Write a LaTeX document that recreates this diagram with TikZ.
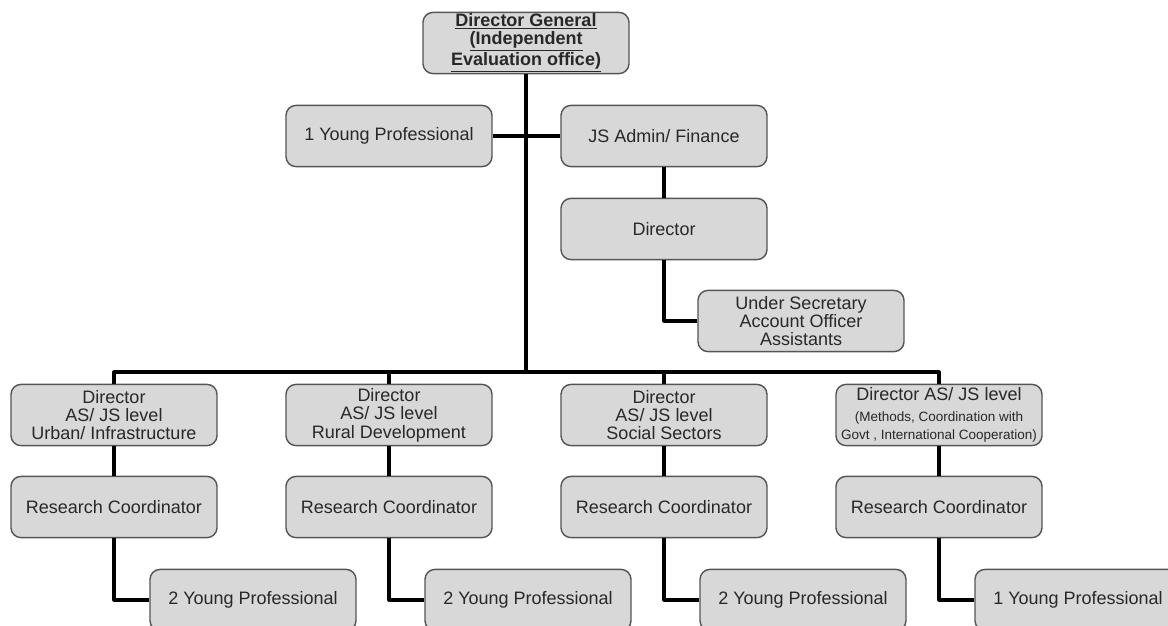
\documentclass[tikz,border=0pt]{standalone}
\usepackage{fontspec}
\setmainfont{Liberation Sans}
\definecolor{boxfill}{RGB}{216,216,216}
\definecolor{boxline}{RGB}{85,85,85}
\definecolor{ink}{RGB}{40,40,40}
\begin{document}
\begin{tikzpicture}[x=0.025cm, y=-0.025cm, line join=round,
	orgbox/.style={draw=boxline, line width=1pt, fill=boxfill, rounded corners=0.25cm, minimum width=5.15cm, minimum height=1.53cm, inner sep=0pt, align=center, text=ink, font=\fontsize{12.8}{13.1}\selectfont},
	link/.style={line width=2.2pt, black},
	every node/.style={font=\fontsize{12.8}{13.1}\selectfont}]
	
	\path[use as bounding box, clip] (0,0) rectangle (1168,625);
	
	% top of the chart
	\node[orgbox, font=\bfseries\fontsize{12.8}{13}\selectfont] (dg) at (526,43) {\underline{Director General}\\ \underline{(Independent}\\ \underline{Evaluation office)}};
	
	\node[orgbox] (yp) at (389,136) {1 Young Professional};
	
	\node[orgbox] (js) at (664,136) {JS Admin/ Finance};
	
	\node[orgbox] (dir) at (664,229) {Director};
	
	\node[orgbox, font=\fontsize{12.8}{12.8}\selectfont] (us) at (801,321) {Under Secretary\\ Account Officer\\ Assistants};
	
	% directors
	\node[orgbox] (d1) at (114,415) {Director\\ AS/ JS level\\ Urban/ Infrastructure};
	
	\node[orgbox] (d2) at (389,415) {Director\\ AS/ JS level\\ Rural Development};
	
	\node[orgbox] (d3) at (664,415) {Director\\ AS/ JS level\\ Social Sectors};
	
	\node[orgbox] (d4) at (939,415) {Director AS/ JS level\\[2pt] {\fontsize{9.6}{10}\selectfont (Methods, Coordination with}\\ {\fontsize{9.6}{10}\selectfont Govt , International Cooperation)}};
	
	% coordinators and young professionals
	\foreach \i/\x/\n in {1/114/2, 2/389/2, 3/664/2, 4/939/1}{
		\node[orgbox] (rc\i) at (\x,507) {Research Coordinator};
		\node[orgbox] (y\i) at (\x+139,600) {\n\ Young Professional};
	}
	
	\coordinate (bus) at (526,372);
	
	% connectors
	\draw[link] (dg.south) -- (bus);
	\draw[link] (yp.east) -- (js.west);
	\draw[link] (js.south) -- (dir.north);
	\draw[link] (dir.south) |- (us.west);
	\draw[link] (d1.north) |- (bus) -| (d4.north);
	\draw[link] (d2.north) |- (bus);
	\draw[link] (d3.north) |- (bus);
	\foreach \i in {1,...,4}{
		\draw[link] (d\i.south) -- (rc\i.north);
		\draw[link] (rc\i.south) |- (y\i.west);
	}
	
\end{tikzpicture}
\end{document}
